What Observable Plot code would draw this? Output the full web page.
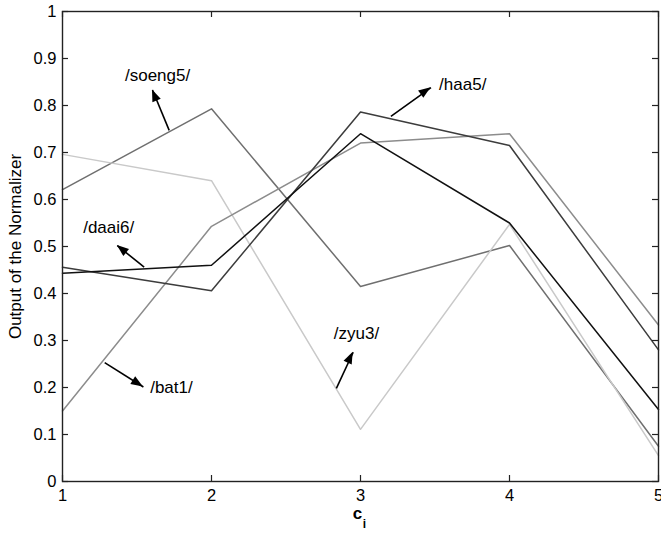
<!DOCTYPE html>
<html>
<head>
<meta charset="utf-8">
<script src="https://cdn.jsdelivr.net/npm/d3@7"></script>
<script src="https://cdn.jsdelivr.net/npm/@observablehq/plot@0.6"></script>
<style>
  html, body { margin: 0; padding: 0; background: #fff; }
  #chart svg { display: block; }
</style>
</head>
<body>
<div id="chart"></div>
<script>
// ---- data ----
const ci = [1, 2, 3, 4, 5];
const soeng5 = [0.621, 0.793, 0.415, 0.502, 0.075];
const zyu3   = [0.696, 0.640, 0.111, 0.547, 0.055];
const bat1   = [0.150, 0.543, 0.720, 0.740, 0.333];
const haa5   = [0.456, 0.406, 0.786, 0.715, 0.280];
const daai6  = [0.443, 0.460, 0.740, 0.550, 0.153];

const seriesNames  = ["/soeng5/", "/zyu3/", "/bat1/", "/haa5/", "/daai6/"];
const seriesValues = [soeng5, zyu3, bat1, haa5, daai6];
const seriesColors = ["#6f6f6f", "#c9c9c9", "#8c8c8c", "#3c3c3c", "#111111"];

const xTicks = [1, 2, 3, 4, 5];
const yTicks = [0, 0.1, 0.2, 0.3, 0.4, 0.5, 0.6, 0.7, 0.8, 0.9, 1];

// annotation labels (data coordinates) and arrows (tail -> tip)
const annLabels = ["/soeng5/", "/haa5/", "/daai6/", "/bat1/", "/zyu3/"];
const annTextX  = [1.638, 3.686, 1.310, 1.731, 2.973];
const annTextY  = [0.864, 0.844, 0.541, 0.200, 0.315];
const annTailX  = [1.716, 3.204, 1.548, 1.283, 2.838];
const annTailY  = [0.747, 0.777, 0.456, 0.253, 0.198];
const annTipX   = [1.604, 3.473, 1.368, 1.543, 2.951];
const annTipY   = [0.833, 0.838, 0.502, 0.201, 0.275];

// ---- build tables ----
const rows = [];
seriesNames.forEach((name, s) => {
  ci.forEach((c, i) => rows.push({series: name, c, v: seriesValues[s][i]}));
});
const arrows = annLabels.map((l, i) => ({
  label: l, tx: annTextX[i], ty: annTextY[i],
  x1: annTailX[i], y1: annTailY[i], x2: annTipX[i], y2: annTipY[i]
}));

const W = 661, H = 536;
const mL = 62, mR = 3, mT = 11, mB = 55;
const pw = W - mL - mR, ph = H - mT - mB;
const font = "'Liberation Sans', Arial, Helvetica, sans-serif";

const chart = Plot.plot({
  width: W,
  height: H,
  marginLeft: mL,
  marginRight: mR,
  marginTop: mT,
  marginBottom: mB,
  style: {fontFamily: font, fontSize: "16px", background: "#fff", color: "#000"},
  x: {domain: [1, 5], label: null},
  y: {domain: [0, 1], label: null},
  color: {domain: seriesNames, range: seriesColors},
  marks: [
    // series lines
    Plot.line(rows, {x: "c", y: "v", z: "series", stroke: "series", strokeWidth: 1.5}),
    // inward ticks
    Plot.tickY(yTicks, {y: d => d, insetRight: pw - 6, stroke: "#222", strokeWidth: 1.2}),
    Plot.tickY(yTicks, {y: d => d, insetLeft: pw - 6, stroke: "#222", strokeWidth: 1.2}),
    Plot.tickX(xTicks, {x: d => d, insetTop: ph - 6, stroke: "#222", strokeWidth: 1.2}),
    Plot.tickX(xTicks, {x: d => d, insetBottom: ph - 6, stroke: "#222", strokeWidth: 1.2}),
    Plot.frame({stroke: "#222", strokeWidth: 1.4}),
    // axis labels
    Plot.axisY(yTicks, {tickSize: 0, tickPadding: 6, fontSize: 16.5, label: null, tickFormat: d => String(d)}),
    Plot.axisX(xTicks, {tickSize: 0, tickPadding: 8, fontSize: 16.5, label: null, tickFormat: d => String(d)}),
    Plot.text(["Output of the Normalizer"], {frameAnchor: "left", textAnchor: "middle", rotate: -90, dx: -47, fontSize: 17, fill: "#000"}),
    Plot.text(["c"], {frameAnchor: "bottom", textAnchor: "middle", dx: -3, dy: 37, fontSize: 17, fontWeight: "bold", fill: "#000"}),
    Plot.text(["i"], {frameAnchor: "bottom", textAnchor: "middle", dx: 4, dy: 46, fontSize: 12, fontWeight: "bold", fill: "#000"}),
    // annotations
    Plot.link(arrows, {x1: "x1", y1: "y1", x2: "x2", y2: "y2", stroke: "#000", strokeWidth: 1.6}),
    Plot.text(arrows, {x: "tx", y: "ty", text: "label", fontSize: 17, fill: "#000"})
  ]
});

// filled arrowheads positioned through the chart's scales
const sx = chart.scale("x"), sy = chart.scale("y");
const g = d3.select(chart).append("g").attr("fill", "#000");
arrows.forEach(a => {
  const X1 = sx.apply(a.x1), Y1 = sy.apply(a.y1);
  const X2 = sx.apply(a.x2), Y2 = sy.apply(a.y2);
  const dx = X2 - X1, dy = Y2 - Y1, len = Math.hypot(dx, dy);
  const ux = dx / len, uy = dy / len, nx = -uy, ny = ux;
  const L = 12, hw = 4.5;
  const bx = X2 - ux * L, by = Y2 - uy * L;
  g.append("path").attr("d",
    `M${X2},${Y2}L${bx + nx * hw},${by + ny * hw}L${bx - nx * hw},${by - ny * hw}Z`);
});

document.getElementById("chart").appendChild(chart);
</script>
</body>
</html>
